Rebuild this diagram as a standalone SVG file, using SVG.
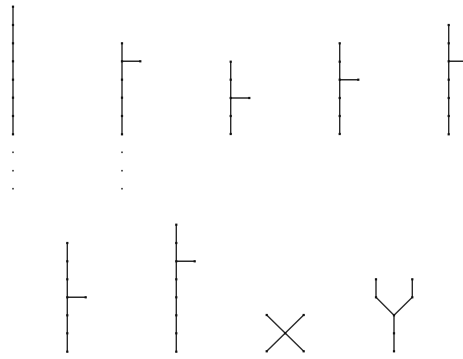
<svg xmlns="http://www.w3.org/2000/svg" width="463" height="359" viewBox="0 0 463 359">
<style>
.e{stroke:#2a2a2a;stroke-width:1.4;fill:none;stroke-linecap:butt}
.n{fill:#111}
.d{fill:#333}
</style>
<defs><rect id="v" x="-1.1" y="-1.1" width="2.2" height="2.2"/><rect id="p" x="-0.8" y="-0.8" width="1.6" height="1.6"/></defs>
<rect width="463" height="359" fill="#fff"/>
<g id="connectors">
<path class="e" d="M13 6.7V134.3"/>
<path class="e" d="M122 43.3V134.3M122 61.3H140.3"/>
<path class="e" d="M230.7 61.7V134M230.7 98H249.3"/>
<path class="e" d="M339.7 43.3V134M339.7 79.7H358.3"/>
<path class="e" d="M448.7 25V134.3M448.7 61.3H464"/>
<path class="e" d="M67.3 243V351.7M67.3 297.3H85.7"/>
<path class="e" d="M176.3 224.7V351.7M176.3 261.3H194.7"/>
<path class="e" d="M266.7 315L303.7 351.3M303.7 315L266.7 351.3"/>
<path class="e" d="M376 279.3V297.3L394 315.3L412.3 297.3V279.3M394 315.3V351.3"/>
</g>
<g id="graph1" class="n">
<use href="#v" x="13" y="6.7"/><use href="#v" x="13" y="25"/><use href="#v" x="13" y="43.3"/><use href="#v" x="13" y="61.3"/><use href="#v" x="13" y="79.7"/><use href="#v" x="13" y="97.7"/><use href="#v" x="13" y="116"/><use href="#v" x="13" y="134.3"/>
<use href="#p" class="d" x="13" y="152.3"/><use href="#p" class="d" x="13" y="170.7"/><use href="#p" class="d" x="13" y="188.7"/>
</g>
<g id="graph2" class="n">
<use href="#v" x="122" y="43.3"/><use href="#v" x="122" y="61.3"/><use href="#v" x="122" y="79.7"/><use href="#v" x="122" y="97.7"/><use href="#v" x="122" y="116"/><use href="#v" x="122" y="134.3"/><use href="#v" x="140.3" y="61.3"/>
<use href="#p" class="d" x="122" y="152.3"/><use href="#p" class="d" x="122" y="170.7"/><use href="#p" class="d" x="122" y="188.7"/>
</g>
<g id="graph3" class="n">
<use href="#v" x="230.7" y="61.7"/><use href="#v" x="230.7" y="79.7"/><use href="#v" x="230.7" y="98"/><use href="#v" x="230.7" y="116"/><use href="#v" x="230.7" y="134"/><use href="#v" x="249.3" y="98"/>
</g>
<g id="graph4" class="n">
<use href="#v" x="339.7" y="43.3"/><use href="#v" x="339.7" y="61.7"/><use href="#v" x="339.7" y="79.7"/><use href="#v" x="339.7" y="98"/><use href="#v" x="339.7" y="116"/><use href="#v" x="339.7" y="134"/><use href="#v" x="358.3" y="79.7"/>
</g>
<g id="graph5" class="n">
<use href="#v" x="448.7" y="25"/><use href="#v" x="448.7" y="43.3"/><use href="#v" x="448.7" y="61.3"/><use href="#v" x="448.7" y="79.7"/><use href="#v" x="448.7" y="98"/><use href="#v" x="448.7" y="116"/><use href="#v" x="448.7" y="134.3"/>
</g>
<g id="graph6" class="n">
<use href="#v" x="67.3" y="243"/><use href="#v" x="67.3" y="261.3"/><use href="#v" x="67.3" y="279.3"/><use href="#v" x="67.3" y="297.3"/><use href="#v" x="67.3" y="315.3"/><use href="#v" x="67.3" y="333.3"/><use href="#v" x="67.3" y="351.7"/><use href="#v" x="85.7" y="297.3"/>
</g>
<g id="graph7" class="n">
<use href="#v" x="176.3" y="224.7"/><use href="#v" x="176.3" y="243"/><use href="#v" x="176.3" y="261.3"/><use href="#v" x="176.3" y="279.3"/><use href="#v" x="176.3" y="297.3"/><use href="#v" x="176.3" y="315.3"/><use href="#v" x="176.3" y="333.3"/><use href="#v" x="176.3" y="351.7"/><use href="#v" x="194.7" y="261.3"/>
</g>
<g id="graph8" class="n">
<use href="#v" x="266.7" y="315"/><use href="#v" x="303.7" y="315"/><use href="#v" x="285.2" y="333.2"/><use href="#v" x="266.7" y="351.3"/><use href="#v" x="303.7" y="351.3"/>
</g>
<g id="graph9" class="n">
<use href="#v" x="376" y="279.3"/><use href="#v" x="376" y="297.3"/><use href="#v" x="412.3" y="279.3"/><use href="#v" x="412.3" y="297.3"/><use href="#v" x="394" y="315.3"/><use href="#v" x="394" y="333.3"/><use href="#v" x="394" y="351.3"/>
</g>
</svg>
